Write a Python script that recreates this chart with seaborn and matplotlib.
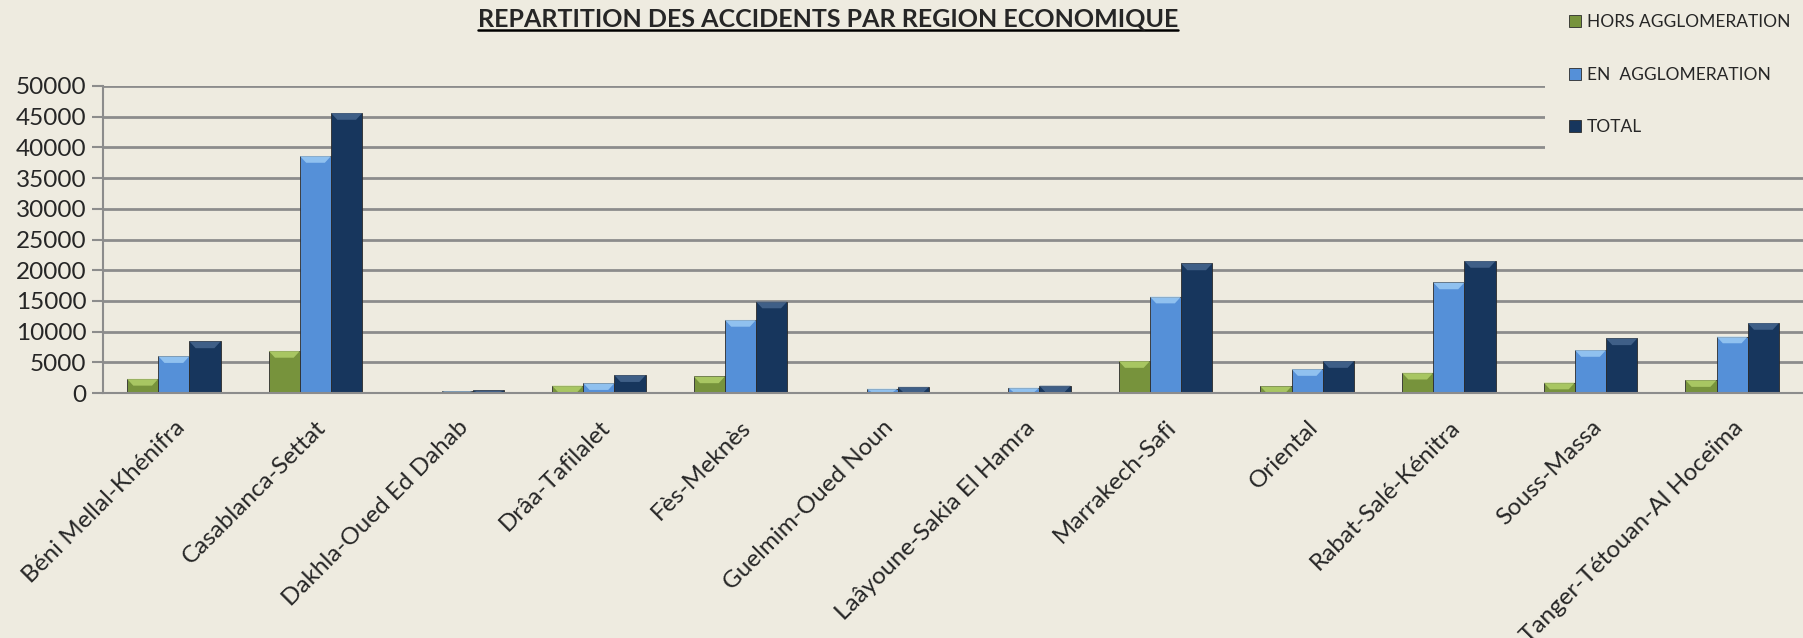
"""Répartition des accidents par région économique (bar chart)."""

import matplotlib

matplotlib.use("Agg")
import matplotlib.pyplot as plt
import pandas as pd
import seaborn as sns
from matplotlib.lines import Line2D
from matplotlib.patches import Polygon, Rectangle

regions = [
    "Béni Mellal-Khénifra",
    "Casablanca-Settat",
    "Dakhla-Oued Ed Dahab",
    "Drâa-Tafilalet",
    "Fès-Meknès",
    "Guelmim-Oued Noun",
    "Laâyoune-Sakia El Hamra",
    "Marrakech-Safi",
    "Oriental",
    "Rabat-Salé-Kénitra",
    "Souss-Massa",
    "Tanger-Tétouan-Al Hoceïma",
]
hors_agglo = [2300, 6850, 60, 1200, 2700, 60, 40, 5200, 1100, 3300, 1700, 2100]
en_agglo = [6000, 38600, 300, 1600, 11900, 700, 870, 15700, 3900, 18000, 7000, 9200]
total = [8400, 45600, 420, 2900, 14900, 1000, 1200, 21100, 5200, 21500, 8900, 11400]
series_names = ["HORS AGGLOMERATION", "EN  AGGLOMERATION", "TOTAL"]
colors = ["#77933C", "#5590D8", "#17365D"]
bevel_colors = ["#B9D870", "#A5D2F8", "#4D6D96"]
y_ticks = list(range(0, 50001, 5000))

BG = "#EEEBE0"
GRID = "#8C8C8C"

rows = []
for name, vals in zip(series_names, [hors_agglo, en_agglo, total]):
    for reg, v in zip(regions, vals):
        rows.append({"region": reg, "value": v, "type": name})
df = pd.DataFrame(rows)

sns.set_style("white")
plt.rcParams["font.family"] = ["Lato", "DejaVu Sans"]

fig = plt.figure(figsize=(18.03, 6.38), dpi=100, facecolor=BG)
ax = fig.add_axes([103 / 1803, 1 - 393 / 638, 1 - 103 / 1803, (393 - 86) / 638])
ax.set_facecolor(BG)

sns.barplot(
    data=df,
    x="region",
    y="value",
    hue="type",
    palette=colors,
    saturation=1,
    width=0.66,
    gap=0,
    edgecolor="#2b2b2b",
    linewidth=0.6,
    ax=ax,
)

# bevel highlight on top of each bar
for i, cont in enumerate(ax.containers):
    for p in cont.patches:
        x0, y0 = p.get_x(), p.get_y()
        w, h = p.get_width(), p.get_height()
        if h < 300:
            continue
        bh = min(h, 1100)
        tri = Polygon(
            [(x0, y0 + h), (x0 + w, y0 + h), (x0 + w * 0.8, y0 + h - bh),
             (x0 + w * 0.2, y0 + h - bh)],
            closed=True, facecolor=bevel_colors[i], edgecolor="none",
            alpha=0.75, zorder=p.get_zorder() + 0.1,
        )
        ax.add_patch(tri)

ax.set_ylim(0, 50000)
ax.set_xlim(-0.5, len(regions) - 0.5)
ax.set_yticks(y_ticks)
ax.set_yticklabels([str(t) for t in y_ticks], fontsize=17.5)
ax.set_xticks(range(len(regions)))
ax.set_xticklabels(regions, rotation=45, ha="right", rotation_mode="anchor",
                   fontsize=17.5)
ax.set_xticks([k + 0.5 for k in range(-1, len(regions))], minor=True)
ax.tick_params(axis="x", which="major", length=0, pad=17)
ax.tick_params(axis="x", which="minor", length=7, width=1.2, color=GRID)
ax.tick_params(axis="y", which="major", length=8, width=1.5, color=GRID,
               left=True, pad=4)
ax.yaxis.grid(True, color=GRID, linewidth=2)
ax.set_axisbelow(True)
ax.set_xlabel("")
ax.set_ylabel("")
for s in ["top", "right"]:
    ax.spines[s].set_visible(False)
for s in ["left", "bottom"]:
    ax.spines[s].set_color(GRID)
    ax.spines[s].set_linewidth(1.5)

# legend area hides the top gridlines
fig.add_artist(Rectangle((1545 / 1803, 1 - 160 / 638), 1 - 1545 / 1803, 160 / 638,
                         transform=fig.transFigure, facecolor=BG,
                         edgecolor="none", zorder=4))

handles, labels = ax.get_legend_handles_labels()
ax.legend_.remove()
fig.legend(
    handles, labels,
    loc="upper left",
    bbox_to_anchor=(1545 / 1803, 1 + 10 / 638),
    fontsize=12.5,
    handlelength=0.7,
    handleheight=0.7,
    handletextpad=0.3,
    labelspacing=2.1,
    borderpad=0.9,
    frameon=False,
)

title = fig.text(828 / 1803, 1 - 19 / 638, "REPARTITION DES ACCIDENTS PAR REGION ECONOMIQUE",
                 ha="center", va="center", fontsize=18, fontweight="bold")

# underline the title
fig.canvas.draw()
bb = title.get_window_extent(renderer=fig.canvas.get_renderer())
inv = fig.transFigure.inverted()
(x0, y0), (x1, _) = inv.transform([(bb.x0, bb.y0 + 1), (bb.x1, bb.y0)])
fig.add_artist(Line2D([x0, x1], [y0, y0], transform=fig.transFigure,
                      color="black", linewidth=1.8))

fig.savefig("out.png", dpi=100, facecolor=BG)
